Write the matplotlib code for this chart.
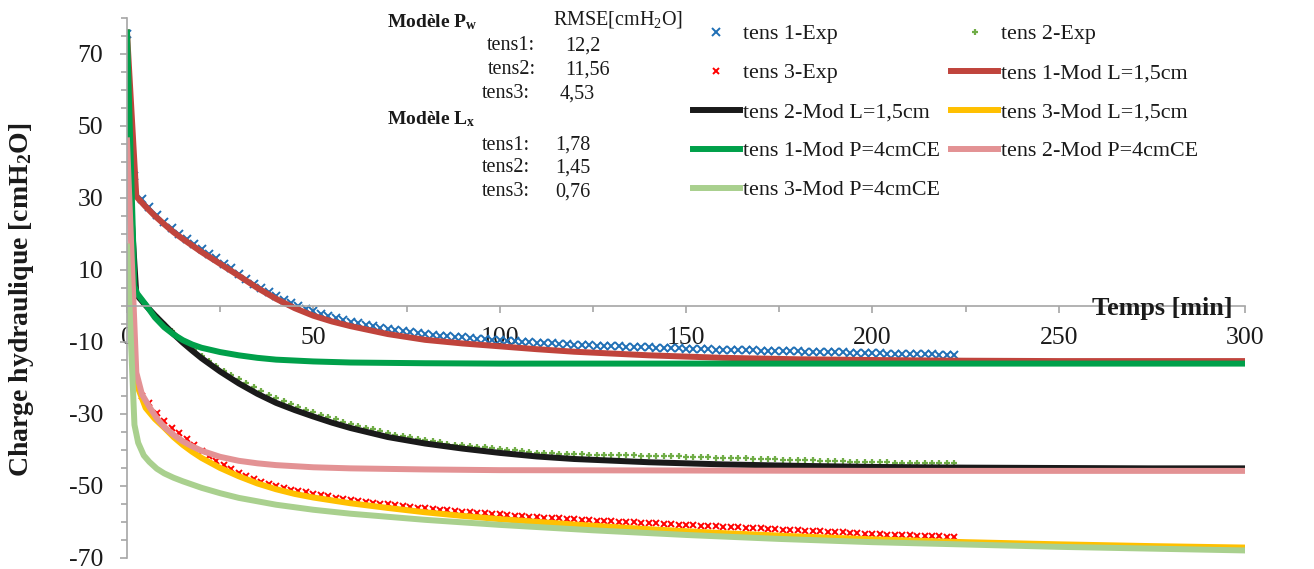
import numpy as np
import matplotlib
matplotlib.use("Agg")
import matplotlib.pyplot as plt
from matplotlib.ticker import MultipleLocator

plt.rcParams['font.family'] = ['Liberation Serif', 'DejaVu Serif']
plt.rcParams['mathtext.fontset'] = 'custom'
plt.rcParams['mathtext.rm'] = 'Liberation Serif'
plt.rcParams['mathtext.it'] = 'Liberation Serif:italic'
plt.rcParams['mathtext.bf'] = 'Liberation Serif:bold'
plt.rcParams['axes.unicode_minus'] = False

# measured data, one point every 2 min
t_exp = np.arange(0, 223, 2)
tens1_exp = [75.5, 36.0, 29.6, 27.4, 25.4, 23.3, 21.6, 20.1, 18.7, 17.3,
             15.9, 14.5, 13.2, 11.8, 10.5, 9.0, 7.6, 6.2, 4.9, 3.8,
             2.7, 1.7, 0.7, -0.1, -0.8, -1.5, -2.2, -2.9, -3.4, -3.9,
             -4.4, -4.8, -5.2, -5.6, -6.0, -6.4, -6.7, -7.0, -7.3, -7.6,
             -7.8, -8.0, -8.2, -8.4, -8.6, -8.7, -8.9, -9.1, -9.2, -9.4,
             -9.5, -9.7, -9.8, -10.0, -10.1, -10.2, -10.3, -10.4, -10.5, -10.6,
             -10.7, -10.8, -10.9, -11.0, -11.1, -11.2, -11.2, -11.3, -11.4, -11.5,
             -11.5, -11.6, -11.7, -11.7, -11.8, -11.9, -11.9, -12.0, -12.0, -12.1,
             -12.1, -12.2, -12.2, -12.3, -12.3, -12.4, -12.4, -12.5, -12.5, -12.6,
             -12.6, -12.7, -12.7, -12.8, -12.8, -12.9, -12.9, -13.0, -13.0, -13.0,
             -13.1, -13.1, -13.2, -13.2, -13.3, -13.3, -13.3, -13.4, -13.4, -13.5,
             -13.5, -13.6]
tens2_exp = [45.0, 4.8, 1.8, -0.8, -3.0, -5.0, -6.9, -8.8, -10.6, -12.3,
             -13.9, -15.3, -16.7, -18.0, -19.2, -20.4, -21.5, -22.6, -23.6, -24.6,
             -25.5, -26.4, -27.2, -28.0, -28.8, -29.5, -30.2, -30.9, -31.5, -32.1,
             -32.7, -33.3, -33.8, -34.3, -34.8, -35.3, -35.7, -36.1, -36.5, -36.9,
             -37.3, -37.6, -37.9, -38.2, -38.5, -38.7, -38.9, -39.1, -39.3, -39.5,
             -39.7, -39.9, -40.1, -40.3, -40.5, -40.7, -40.8, -40.9, -41.0, -41.1,
             -41.2, -41.2, -41.3, -41.3, -41.4, -41.4, -41.4, -41.5, -41.5, -41.6,
             -41.6, -41.7, -41.7, -41.8, -41.8, -41.9, -41.9, -42.0, -42.0, -42.1,
             -42.1, -42.2, -42.3, -42.3, -42.4, -42.5, -42.5, -42.6, -42.7, -42.7,
             -42.8, -42.9, -42.9, -43.0, -43.0, -43.1, -43.1, -43.2, -43.2, -43.3,
             -43.3, -43.4, -43.4, -43.5, -43.5, -43.5, -43.6, -43.6, -43.6, -43.7,
             -43.7, -43.7]
tens3_exp = [16.5, -21.0, -25.0, -27.0, -29.8, -32.0, -33.8, -35.4, -37.0, -38.6,
             -40.2, -41.7, -43.0, -44.2, -45.3, -46.3, -47.2, -48.0, -48.8, -49.4,
             -50.0, -50.5, -51.0, -51.4, -51.8, -52.2, -52.6, -52.9, -53.2, -53.5,
             -53.8, -54.1, -54.4, -54.6, -54.9, -55.1, -55.4, -55.6, -55.8, -56.0,
             -56.2, -56.4, -56.6, -56.8, -57.0, -57.1, -57.3, -57.5, -57.6, -57.8,
             -57.9, -58.1, -58.2, -58.4, -58.5, -58.6, -58.8, -58.9, -59.0, -59.1,
             -59.3, -59.4, -59.5, -59.6, -59.7, -59.8, -59.9, -60.0, -60.1, -60.2,
             -60.3, -60.4, -60.5, -60.6, -60.7, -60.8, -60.9, -61.0, -61.1, -61.2,
             -61.3, -61.4, -61.5, -61.6, -61.7, -61.8, -61.9, -62.0, -62.1, -62.2,
             -62.3, -62.4, -62.5, -62.6, -62.7, -62.8, -62.9, -63.0, -63.1, -63.2,
             -63.3, -63.4, -63.5, -63.5, -63.6, -63.7, -63.8, -63.9, -64.0, -64.0,
             -64.1, -64.2]

# model curves (L = 1,5 cm)
t_m1L = [0, 2.5, 5, 7.5, 10, 12.5, 15, 17.5, 20, 25, 30, 35, 40, 45, 50, 55, 60, 70, 80, 90,
         100, 110, 120, 140, 160, 180, 200, 225, 250, 275, 300]
tens1_modL = [76, 30.4, 27.6, 25.0, 22.7, 20.5, 18.6, 16.8, 15.0, 11.7, 8.4, 5.0, 2.0, -0.6, -2.7,
              -4.3, -5.6, -7.8, -9.4, -10.4, -11.2, -12.0, -12.7, -13.7, -14.4, -14.8, -15.0,
              -15.2, -15.3, -15.3, -15.3]
t_m2L = [0, 2.5, 5, 7.5, 10, 12.5, 15, 17.5, 20, 25, 30, 35, 40, 45, 50, 55, 60, 70, 80, 90,
         100, 110, 120, 140, 160, 180, 200, 225, 250, 275, 300]
tens2_modL = [45, 3.2, 0.2, -2.6, -5.2, -7.8, -10.2, -12.4, -14.5, -18.2, -21.5, -24.4, -26.9,
              -28.9, -30.7, -32.4, -33.9, -36.4, -38.2, -39.6, -40.8, -41.8, -42.5, -43.4, -44.0,
              -44.4, -44.7, -44.9, -45.0, -45.1, -45.1]
t_m3L = [0, 2.5, 5, 7.5, 10, 12.5, 15, 17.5, 20, 25, 30, 35, 40, 45, 50, 60, 70, 80, 90,
         100, 120, 140, 160, 180, 200, 225, 250, 275, 300]
tens3_modL = [16.5, -21.5, -28.3, -31.4, -33.8, -36.4, -38.6, -40.5, -42.2, -45.0, -47.3, -49.3,
              -50.9, -52.2, -53.2, -54.8, -56.1, -57.3, -58.3, -59.2, -60.7, -62.0, -63.1, -64.0,
              -64.8, -65.6, -66.2, -66.7, -67.1]

# model curves (P = 4 cmCE)
t_m1P = [0, 2, 2.7, 5, 7.5, 10, 12.5, 15, 17.5, 20, 25, 30, 35, 40, 50, 60, 80, 100, 150,
         200, 250, 300]
tens1_modP = [76, 5.5, 3.5, 0.4, -3.2, -5.9, -7.9, -9.5, -10.7, -11.6, -12.8, -13.7, -14.4,
              -14.9, -15.4, -15.7, -15.9, -16.0, -16.0, -16.0, -16.0, -16.0]
t_m2P = [0, 2.5, 4, 6, 8, 10, 12.5, 15, 17.5, 20, 25, 30, 35, 40, 50, 60, 80, 100, 150, 200,
         250, 300]
tens2_modP = [46, -18.5, -24.5, -28.0, -31.2, -33.6, -35.8, -37.6, -39.0, -40.2, -41.9, -43.0,
              -43.7, -44.2, -44.8, -45.1, -45.4, -45.6, -45.7, -45.8, -45.8, -45.8]
t_m3P = [0, 2, 3, 4.5, 6, 8, 10, 12.5, 15, 20, 25, 30, 40, 50, 60, 80, 100, 125, 150, 175,
         200, 250, 300]
tens3_modP = [16.5, -33.0, -38.0, -41.5, -43.3, -45.2, -46.5, -47.7, -48.7, -50.5, -52.0, -53.3,
              -55.2, -56.6, -57.7, -59.4, -60.8, -62.3, -63.6, -64.7, -65.6, -66.9, -67.9]

W, H = 1314, 569
fig = plt.figure(figsize=(W / 100, H / 100), dpi=100)
ax = fig.add_axes([127 / W, 11 / H, 1118 / W, 540 / H])

lw = 4.3
h1, = ax.plot(t_exp, tens1_exp, ls='none', marker='x', ms=6, mew=1.4, color='#1F6FB5', label='tens 1-Exp')
h2, = ax.plot(t_exp, tens2_exp, ls='none', marker='+', ms=4.5, mew=1.6, color='#70AD47', label='tens 2-Exp')
h3, = ax.plot(t_exp, tens3_exp, ls='none', marker='x', ms=3.8, mew=1.4, color='#FF0000', label='tens 3-Exp')
h4, = ax.plot(t_m1L, tens1_modL, lw=lw, color='#C0443C', label='tens 1-Mod L=1,5cm')
h5, = ax.plot(t_m2L, tens2_modL, lw=lw, color='#1A1A1A', label='tens 2-Mod L=1,5cm')
h6, = ax.plot(t_m3L, tens3_modL, lw=lw, color='#FFC000', label='tens 3-Mod L=1,5cm')
h7, = ax.plot(t_m1P, tens1_modP, lw=lw, color='#00A04A', label='tens 1-Mod P=4cmCE')
h8, = ax.plot(t_m2P, tens2_modP, lw=lw, color='#E39294', label='tens 2-Mod P=4cmCE')
h9, = ax.plot(t_m3P, tens3_modP, lw=lw, color='#A9D08E', label='tens 3-Mod P=4cmCE')

ax.set_xlim(0, 300)
ax.set_ylim(-70, 80)
for s in ['top', 'right']:
    ax.spines[s].set_visible(False)
ax.spines['left'].set_position(('data', 0))
ax.spines['bottom'].set_position(('data', 0))
for s in ['left', 'bottom']:
    ax.spines[s].set_color('#A6A6A6')
    ax.spines[s].set_linewidth(1.2)

ax.set_xticks(np.arange(0, 301, 50))
ax.xaxis.set_minor_locator(MultipleLocator(25))
ax.set_yticks(np.arange(-70, 71, 20))
ax.yaxis.set_minor_locator(MultipleLocator(5))
ax.tick_params(which='both', direction='out', color='#A6A6A6', width=1.2,
               labelsize=18.5, labelcolor='#1A1A1A')
ax.tick_params(which='major', length=5)
ax.tick_params(which='minor', length=4)
ax.tick_params(axis='x', pad=10)
ax.tick_params(axis='y', pad=12)

fig.text(1233 / W, 1 - 315 / H, 'Temps [min]', ha='right', va='baseline',
         fontsize=18.8, fontweight='bold', color='#1A1A1A')
fig.text(22 / W, 1 - 300 / H, r'Charge hydraulique [cmH$_\mathbf{2}$O]', rotation=90,
         ha='center', va='center', fontsize=20, fontweight='bold', color='#1A1A1A')

# RMSE box
tc = '#1A1A1A'
def ftxt(x, y, s, **kw):
    fig.text(x / W, 1 - y / H, s, va='center', color=tc, **kw)

ftxt(387, 22, r'Modèle P$_\mathbf{w}$', fontsize=14, fontweight='bold')
ftxt(553, 20, r'RMSE[cmH$_2$O]', fontsize=14.5)
ftxt(487, 46, 'tens1:', fontsize=14.5)
ftxt(565, 46, '12,2', fontsize=14.5)
ftxt(488, 70, 'tens2:', fontsize=14.5)
ftxt(565, 70, '11,56', fontsize=14.5)
ftxt(482, 94, 'tens3:', fontsize=14.5)
ftxt(560, 94, '4,53', fontsize=14.5)
ftxt(387, 119, r'Modèle L$_\mathbf{x}$', fontsize=14, fontweight='bold')
ftxt(482, 145, 'tens1:', fontsize=14.5)
ftxt(555, 145, '1,78', fontsize=14.5)
ftxt(482, 168, 'tens2:', fontsize=14.5)
ftxt(555, 168, '1,45', fontsize=14.5)
ftxt(482, 192, 'tens3:', fontsize=14.5)
ftxt(555, 192, '0,76', fontsize=14.5)

# legend filled row by row like the original
handles = [h1, h3, h5, h7, h9, h2, h4, h6, h8]
leg = ax.legend(handles=handles, labels=[h.get_label() for h in handles], ncol=2,
                loc='upper left', bbox_to_anchor=(693 / W, 1 - 24 / H),
                bbox_transform=fig.transFigure, frameon=False, fontsize=15.8,
                borderpad=0, borderaxespad=0, handlelength=2.14, handletextpad=0.15,
                columnspacing=0.5, labelspacing=0.85)
for txt in leg.get_texts():
    txt.set_color(tc)

fig.savefig('out.png', dpi=100)
